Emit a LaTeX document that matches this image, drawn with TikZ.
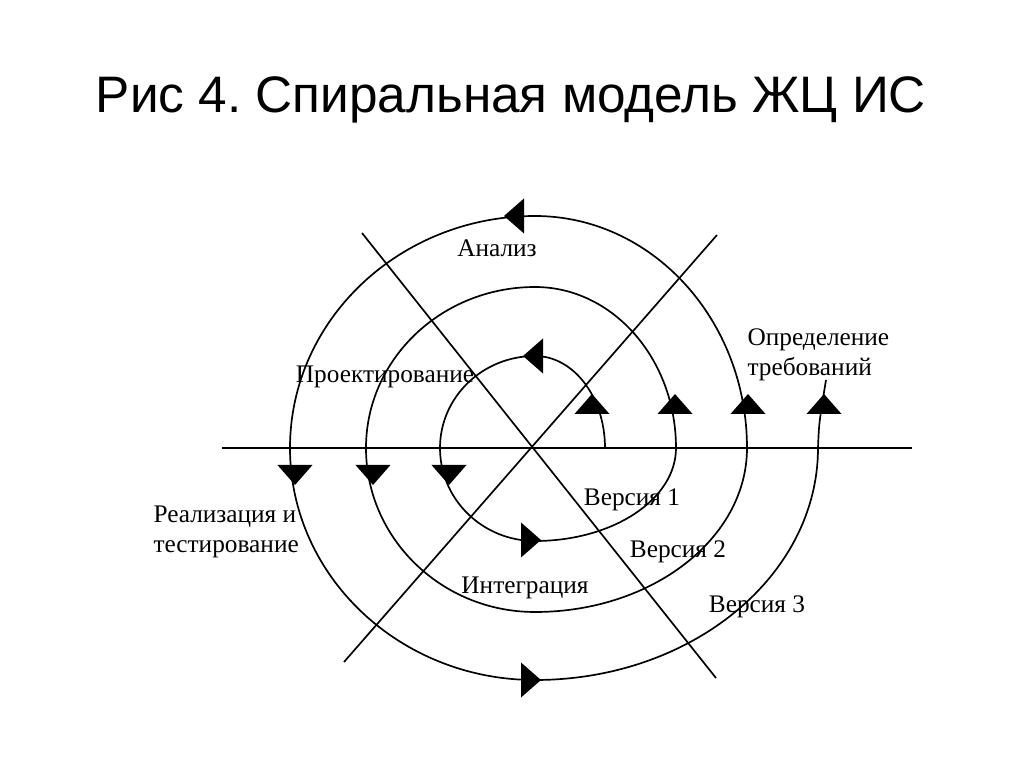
\documentclass[tikz,border=0pt]{standalone}
\usepackage{fontspec}
\setmainfont{Liberation Serif}
\newfontfamily\titlefont{Liberation Sans}
\usetikzlibrary{positioning}
\newcommand{\spiraltip}[3]{\fill[shift={(#1,#2)}, rotate=#3] (10,0) -- (-10,17.5) -- (-10,-17.5) -- cycle;}

\begin{document}
\begin{tikzpicture}[x=0.025cm, y=0.025cm, line width=1.2pt, font=\fontsize{18}{21}\selectfont]
  \useasboundingbox (-535,-319) rectangle (489,448);
  \node[font=\titlefont\fontsize{36.5}{40}\selectfont, anchor=base] (title) at (-24,335) {Рис 4.\ Спиральная модель ЖЦ ИС};

  % axes
  \coordinate (centre) at (0,0);
  \draw (-313,0) -- (377,0);
  \draw (-173,215) -- (181,-230);
  \draw (182,213) -- (-191,-214);

  % spiral
  \draw (70,0) arc[start angle=0, end angle=90, x radius=70, y radius=92]
    arc[start angle=90, end angle=180, x radius=95, y radius=92]
    arc[start angle=180, end angle=270, x radius=95, y radius=93]
    arc[start angle=270, end angle=360, x radius=141, y radius=93]
    arc[start angle=0, end angle=90, x radius=141, y radius=161]
    arc[start angle=90, end angle=180, x radius=169, y radius=161]
    arc[start angle=180, end angle=270, x radius=169, y radius=164]
    arc[start angle=270, end angle=360, x radius=212, y radius=164]
    arc[start angle=0, end angle=90, x radius=212, y radius=232]
    arc[start angle=90, end angle=180, x radius=245, y radius=232]
    arc[start angle=180, end angle=270, x radius=245, y radius=232]
    arc[start angle=270, end angle=360, x radius=283, y radius=232]
    .. controls (284,25) .. (291,68);

  \spiraltip{57}{44}{90}
  \spiraltip{140}{44}{90}
  \spiraltip{213}{44}{90}
  \spiraltip{289}{44}{90}
  \spiraltip{-2}{92}{180}
  \spiraltip{-21}{232}{180}
  \spiraltip{-86}{-27}{-90}
  \spiraltip{-162}{-27}{-90}
  \spiraltip{-240}{-27}{-90}
  \spiraltip{-4}{-92}{0}
  \spiraltip{-4}{-232}{0}

  % labels
  \node (analiz) at (-38,200) {Анализ};
  \node (proekt) at (-150,71) {Проектирование};
  \node[align=left, anchor=west] (trebov) at (207,93) {Определение\\требований};
  \node[align=left, anchor=west] (realiz) at (-387,-84) {Реализация и\\тестирование};
  \node (integr) at (-10,-140) {Интеграция};
  \node (vers1) at (97,-52) {Версия 1};
  \node (vers2) at (143,-104) {Версия 2};
  \node (vers3) at (222,-159) {Версия 3};
\end{tikzpicture}
\end{document}
